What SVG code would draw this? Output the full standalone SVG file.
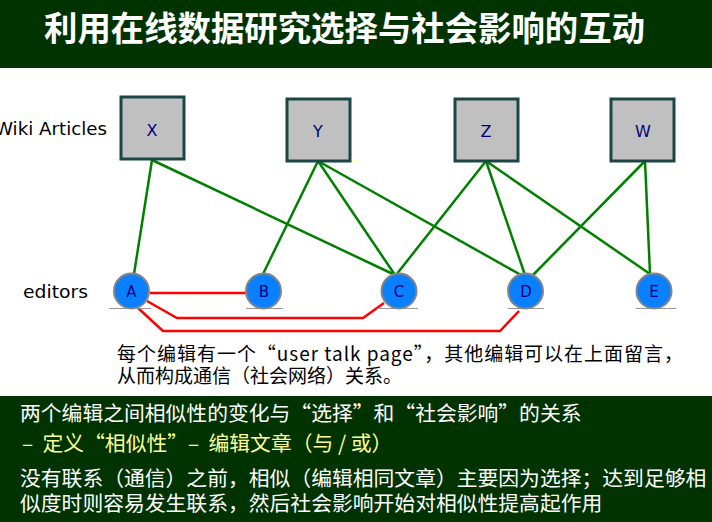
<svg xmlns="http://www.w3.org/2000/svg" width="712" height="522" viewBox="0 0 712 522">
<style>
.band{fill:#003300}
.title{font-family:"Noto Sans CJK SC","Noto Sans",sans-serif;font-size:34px;font-weight:bold;fill:#ffffff}
.box{fill:#c0c0c0;stroke:#1c4646;stroke-width:3}
.blab{font-family:"DejaVu Sans","Noto Sans",sans-serif;font-size:16px;fill:#000080;text-anchor:middle}
.node{fill:#0a80ff;stroke:#858585;stroke-width:2}
.nlab{font-family:"DejaVu Sans","Noto Sans",sans-serif;font-size:15px;fill:#000080;text-anchor:middle}
.shadow{stroke:#999999;stroke-width:1.2}
.glow{stroke:#ffff99;stroke-width:1.2;opacity:0.8}
.g{stroke:#008000;stroke-width:2.5;fill:none}
.r{stroke:#ff0000;stroke-width:2.5;fill:none}
.side{font-family:"DejaVu Sans","Noto Sans",sans-serif;font-size:18px;fill:#000000}
.note{font-family:"Noto Sans CJK SC",sans-serif;font-size:19px;fill:#000000}
.bt{font-family:"Noto Sans CJK SC",sans-serif;font-size:20.8px;fill:#ffffff}
.yt{fill:#ffff99}
</style>
<rect x="0" y="0" width="712" height="522" fill="#ffffff"/>
<g id="title-bar">
<rect class="band" x="0" y="0" width="712" height="68"/>
<text class="title" x="44" y="41" textLength="601" lengthAdjust="spacingAndGlyphs">利用在线数据研究选择与社会影响的互动</text>
</g>
<g id="labels">
<text class="side" x="-5" y="135" textLength="112" lengthAdjust="spacingAndGlyphs">Wiki Articles</text>
<text class="side" x="23" y="298" textLength="65" lengthAdjust="spacingAndGlyphs">editors</text>
</g>
<g id="connectors">
<line class="g" x1="152" y1="160" x2="134" y2="274"/>
<line class="g" x1="152" y1="160" x2="395" y2="275"/>
<line class="g" x1="318" y1="161" x2="263" y2="274"/>
<line class="g" x1="318" y1="161" x2="395" y2="275"/>
<line class="g" x1="318" y1="161" x2="521" y2="275"/>
<line class="g" x1="486" y1="161" x2="396" y2="275"/>
<line class="g" x1="486" y1="161" x2="525" y2="275"/>
<line class="g" x1="486" y1="161" x2="650" y2="274"/>
<line class="g" x1="645" y1="161" x2="533" y2="275"/>
<line class="g" x1="645" y1="161" x2="650" y2="274"/>
<line class="r" x1="150" y1="293" x2="247" y2="293"/>
<polyline class="r" points="147,301 177,318 363,318 384,303"/>
<polyline class="r" points="138,308 163,331 500,331 519,311"/>
</g>
<g id="node-X">
<line class="glow" x1="111" y1="159.5" x2="188" y2="159.5"/>
<rect class="box" x="121" y="97" width="63" height="62"/>
<text class="blab" x="152" y="136">X</text>
</g>
<g id="node-Y">
<line class="glow" x1="283" y1="160.5" x2="357" y2="160.5"/>
<rect class="box" x="287" y="99" width="63" height="62"/>
<text class="blab" x="318" y="137">Y</text>
</g>
<g id="node-Z">
<rect class="box" x="455" y="99" width="63" height="62"/>
<text class="blab" x="486" y="137">Z</text>
</g>
<g id="node-W">
<rect class="box" x="611" y="99" width="63" height="62"/>
<text class="blab" x="643" y="137">W</text>
</g>
<g id="node-A">
<line class="shadow" x1="109" y1="308.5" x2="151" y2="308.5"/>
<circle class="node" cx="131.5" cy="291" r="17.5"/>
<text class="nlab" x="131.5" y="297">A</text>
</g>
<g id="node-B">
<line class="shadow" x1="246" y1="308.5" x2="283" y2="308.5"/>
<circle class="node" cx="263.5" cy="291" r="17.5"/>
<text class="nlab" x="264" y="297">B</text>
</g>
<g id="node-C">
<line class="shadow" x1="377" y1="308.5" x2="418" y2="308.5"/>
<circle class="node" cx="399" cy="291" r="17.5"/>
<text class="nlab" x="399" y="297">C</text>
</g>
<g id="node-D">
<line class="shadow" x1="508" y1="308.5" x2="544" y2="308.5"/>
<circle class="node" cx="525.5" cy="291" r="17.5"/>
<text class="nlab" x="526" y="297">D</text>
</g>
<g id="node-E">
<line class="shadow" x1="636" y1="308.5" x2="676" y2="308.5"/>
<circle class="node" cx="654" cy="291" r="17.5"/>
<text class="nlab" x="654" y="297">E</text>
</g>
<g id="note">
<text class="note" x="117" y="361" textLength="566" lengthAdjust="spacing">每个编辑有一个“user talk page”，其他编辑可以在上面留言，</text>
<text class="note" x="117" y="383">从而构成通信（社会网络）关系。</text>
</g>
<g id="bottom-panel">
<rect class="band" x="0" y="396" width="712" height="126"/>
<text class="bt" x="20" y="421">两个编辑之间相似性的变化与“选择”和“社会影响”的关系</text>
<text class="bt yt" x="22" y="451" xml:space="preserve">–  定义“相似性”–  编辑文章（与 / 或）</text>
<text class="bt" x="20" y="486">没有联系（通信）之前，相似（编辑相同文章）主要因为选择；达到足够相</text>
<text class="bt" x="20" y="511">似度时则容易发生联系，然后社会影响开始对相似性提高起作用</text>
</g>
</svg>
